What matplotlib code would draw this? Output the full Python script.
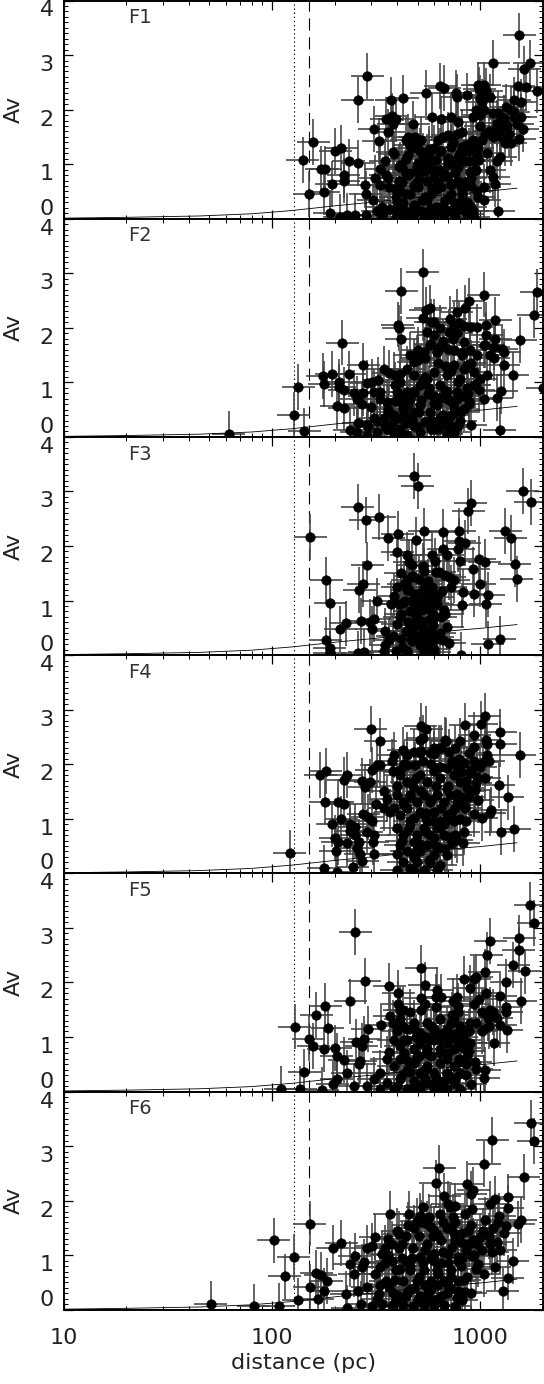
import numpy as np
import matplotlib
matplotlib.use("Agg")
import matplotlib.pyplot as plt
from matplotlib.ticker import FixedLocator, NullFormatter, MultipleLocator

# ---------------- data ----------------
panel_names = ["F1", "F2", "F3", "F4", "F5", "F6"]

d_f1 = [287, 258, 1538, 1153, 1725, 1629, 1660, 1862, 1520, 552, 425, 374,
        643, 673, 762, 776, 865, 970, 988, 1047, 1067, 1109, 996, 1019, 1221, 1153, 1047, 959, 996, 923,
        141, 158, 151, 177, 173, 180, 194, 201, 215, 221, 221, 234, 258, 279, 190,
        310, 325, 353, 376, 394, 362, 383, 331, 313, 351, 386, 477, 486, 495, 450, 441,
        584, 648, 629, 727, 780, 817, 898, 817, 727, 700, 636, 556, 535, 596, 673, 756, 848, 951, 988,
        1109, 1047, 1153, 1175, 1245, 1397, 1538, 1597, 1507, 1567, 1567, 1452, 1334, 1452, 1371, 1318,
        1047, 1221, 898, 933,
        282, 306, 338, 365, 394, 409, 425, 459, 486, 505, 525, 556, 578, 612, 648, 686, 727, 770, 817, 865,
        433, 477, 535, 600, 673, 756, 282, 338, 394, 495, 459, 600, 556, 700, 409, 786, 441, 515, 230, 250, 212]
av_f1 = [2.61, 2.17, 3.36, 2.86, 2.86, 2.75, 2.42, 2.35, 2.43, 2.31, 2.22, 2.17,
         2.43, 2.40, 2.31, 2.23, 2.26, 2.45, 2.37, 2.46, 2.35, 2.23, 2.22, 2.14, 1.93, 1.93, 1.99, 1.99, 1.91, 1.87,
         1.07, 1.41, 0.46, 0.49, 0.92, 0.92, 0.64, 1.24, 1.30, 0.80, 0.70, 1.05, 1.02, 0.61, 0.11,
         1.64, 1.42, 1.82, 1.88, 1.82, 1.59, 1.73, 0.92, 0.75, 0.80, 1.19, 1.74, 1.50, 1.35, 1.16, 0.83,
         1.87, 1.83, 1.44, 1.87, 1.77, 1.59, 1.38, 1.31, 1.31, 1.53, 1.25, 1.13, 0.98, 0.89, 0.83, 0.83, 0.67, 0.89, 1.07,
         0.89, 0.58, 0.76, 0.64, 1.13, 1.38, 1.47, 1.65, 1.74, 2.14, 1.87, 2.17, 2.05, 1.87, 1.56, 1.38,
         0.34, 0.15, 0.21, 0.03,
         0.46, 0.34, 0.21, 0.58, 0.40, 0.70, 0.28, 0.46, 0.21, 0.58, 0.34, 0.70, 0.46, 0.21, 0.58, 0.34, 0.46, 0.21, 0.34, 0.09,
         0.09, 0.06, 0.04, 0.06, 0.06, 0.04, 0.06, 0.04, 0.04, 0.95, 0.83, 0.76, 0.34, 1.01, 0.95, 1.13, 1.44, 1.25, 0.06, 0.06, 0.04]
d_f1_core = [320, 345, 370, 400, 430, 460, 490, 520, 560, 600, 640, 690, 740, 800, 860, 920,
             330, 360, 390, 420, 450, 480, 510, 545, 585, 625, 670, 720, 780, 840, 900, 960,
             350, 380, 410, 440, 470, 500, 530, 570, 610, 650, 700, 760, 820, 880,
             1100, 1200, 1300, 1400, 1150, 1250, 1350, 1450, 1050, 1000]
av_f1_core = [0.15, 0.12, 0.18, 0.14, 0.16, 0.12, 0.18, 0.15, 0.13, 0.17, 0.14, 0.16, 0.12, 0.18, 0.15, 0.14,
              0.62, 0.75, 0.55, 0.68, 0.80, 0.60, 0.72, 0.88, 0.56, 0.66, 0.78, 0.62, 0.70, 0.58, 0.74, 0.50,
              1.05, 1.22, 0.98, 1.10, 1.30, 1.02, 1.15, 1.20, 1.08, 1.25, 1.12, 1.00, 1.18, 1.06,
              1.60, 1.75, 1.85, 2.00, 1.50, 1.65, 1.70, 1.95, 1.55, 1.70]
d_f1_fill = [400, 420, 440, 460, 480, 500, 520, 540, 560, 580, 600, 620, 640, 660, 680, 700, 720, 740, 760, 780,
             800, 820, 840, 860, 880, 900, 920, 940, 960, 980,
             410, 450, 490, 530, 570, 610, 650, 690, 730, 770, 810, 850, 890, 930, 970, 1020, 1080, 1140, 1200, 1260, 1320]
av_f1_fill = [0.30, 0.95, 0.45, 1.35, 0.25, 0.85, 1.45, 0.40, 1.00, 0.20, 1.30, 0.55, 0.90, 1.50, 0.35, 1.10, 0.65, 1.40, 0.28, 0.95,
              1.20, 0.45, 1.05, 0.30, 1.25, 0.60, 1.45, 0.90, 1.15, 0.40,
              0.50, 1.50, 0.65, 0.35, 1.28, 0.90, 0.22, 0.78, 1.00, 1.55, 0.58, 1.35, 0.85, 1.05, 1.30, 1.45, 1.20, 1.60, 1.05, 1.50, 1.75]

d_f2 = [62, 127, 134, 143, 218, 175, 178, 194, 211, 211, 222, 235, 275, 205, 222, 248, 256, 275, 286, 302, 324, 308,
        344, 363, 384, 413, 445, 479, 505, 413, 397, 355, 331,
        418, 531, 401, 407, 418, 531, 548, 575, 579, 597, 1038, 879, 847, 773, 718, 745, 788, 832, 896, 964, 1069, 1181,
        1871, 1803, 1556, 1990, 1430, 1294, 1300, 1271, 1203, 1260, 1240, 902,
        555, 597, 643, 705, 773, 833, 896, 964, 1038, 1117, 575, 619, 643, 745, 817, 864, 930, 1000, 1077, 1159,
        496, 535, 479, 515, 555, 597, 643, 692, 745, 802, 864, 930, 982, 1038, 773, 692, 619, 575, 515, 461, 428,
        384, 344, 308, 286, 256, 237, 320, 355, 413, 479, 515, 597, 692, 745, 833, 643, 745, 555, 413, 445, 479,
        692, 445, 384, 286, 1159, 1181, 1069, 1057]
av_f2 = [0.06, 0.41, 0.92, 0.11, 1.73, 1.12, 0.97, 1.16, 1.01, 0.92, 0.86, 1.15, 1.31, 0.57, 0.53, 0.81, 0.70, 0.80, 0.99, 1.01, 1.05, 0.83,
         1.24, 1.18, 1.13, 1.16, 1.25, 1.38, 1.41, 1.01, 0.83, 0.64, 0.83,
         2.67, 3.02, 2.06, 1.99, 1.79, 2.18, 2.32, 2.37, 2.11, 2.11, 2.61, 2.49, 2.36, 2.29, 2.17, 2.05, 2.08, 2.03, 2.02, 2.02, 2.06, 2.15,
         2.66, 2.23, 1.77, 0.90, 1.14, 1.31, 1.56, 1.62, 0.72, 0.84, 0.12, 0.21,
         1.93, 1.87, 1.99, 1.93, 1.90, 1.74, 1.59, 1.50, 1.68, 1.50, 1.68, 1.56, 1.65, 1.59, 1.50, 1.31, 1.19, 1.07, 1.13, 1.44,
         1.44, 1.56, 1.13, 0.95, 1.07, 1.19, 0.95, 1.13, 1.31, 1.07, 0.89, 0.95, 0.86, 0.70, 0.83, 0.70, 0.58, 0.46, 0.58, 0.70, 0.52,
         0.40, 0.34, 0.34, 0.21, 0.09, 0.12, 0.09, 0.15, 0.09, 0.21, 0.09, 0.15, 0.21, 0.46, 0.52, 0.34, 0.09, 0.28, 0.34, 0.83, 0.46,
         0.06, 0.04, 0.06, 0.04, 1.65, 1.80, 1.87, 1.68]
d_f2_core = [260, 290, 320, 350, 380, 410, 440, 470, 500, 540, 580, 620, 660, 700, 750, 800,
             270, 300, 330, 360, 390, 420, 450, 480, 520, 560, 600, 640, 680, 720, 770, 820, 880, 940,
             460, 500, 540, 580, 620, 660, 700, 740]
av_f2_core = [0.25, 0.18, 0.30, 0.20, 0.28, 0.15, 0.25, 0.32, 0.18, 0.27, 0.15, 0.30, 0.22, 0.28, 0.18, 0.30,
              0.60, 0.55, 0.70, 0.52, 0.65, 0.75, 0.60, 0.85, 0.68, 0.78, 0.62, 0.72, 0.85, 0.66, 0.70, 0.75, 0.60, 0.95,
              1.50, 1.60, 1.45, 1.70, 1.55, 1.75, 1.62, 1.80]
d_f2_fill = [360, 390, 420, 450, 480, 510, 540, 570, 600, 630, 660, 690, 720, 750, 780, 810, 840, 870, 900,
             380, 430, 480, 530, 580, 630, 680, 730, 780, 830, 880]
av_f2_fill = [0.45, 0.95, 0.60, 0.35, 0.80, 0.45, 1.10, 0.90, 0.75, 1.35, 0.40, 0.85, 1.20, 0.55, 1.00, 0.45, 1.25, 0.80, 1.35,
              0.10, 0.50, 0.20, 1.05, 0.30, 0.15, 1.30, 0.40, 0.20, 1.55, 0.65]

d_f3 = [153, 481, 502, 258, 282, 328, 362, 402, 537, 663, 791, 899, 878, 492, 794, 841, 1597, 1751, 1316, 1403, 1462, 1500,
        665, 695, 786, 800, 988, 1052, 926, 995, 933, 1092, 830, 820, 1065, 287, 275, 262, 182, 191, 321,
        400, 444, 455, 471, 533, 584, 604, 415, 447, 481, 537, 611, 634, 670, 708, 748,
        400, 386, 447, 490, 537, 589, 658, 721, 407, 372, 415, 481, 518, 567, 622, 670, 600,
        213, 226, 181, 190, 267, 296, 310, 348, 302, 400, 447, 518, 578, 646, 695,
        365, 415, 499, 557, 622, 666, 709, 1084, 1240, 393, 447, 537, 600, 805, 258, 277, 345, 190, 527, 589, 622]
av_f3 = [2.17, 3.28, 3.10, 2.71, 2.48, 2.53, 2.15, 2.22, 2.28, 2.26, 2.27, 2.79, 2.64, 2.11, 2.10, 2.06, 3.01, 2.80, 2.28, 2.15, 1.67, 1.40,
         1.94, 1.84, 1.94, 1.73, 1.76, 1.71, 1.57, 1.30, 1.12, 1.11, 1.16, 0.91, 0.93, 1.65, 1.31, 1.20, 1.37, 0.96, 1.00,
         1.89, 1.83, 1.70, 1.66, 1.64, 1.84, 1.72, 1.50, 1.38, 1.43, 1.55, 1.52, 1.52, 1.47, 1.43, 1.37,
         1.24, 1.09, 1.24, 1.12, 1.24, 1.18, 1.18, 1.24, 0.94, 0.94, 0.76, 0.94, 0.82, 1.00, 0.94, 0.82, 0.69,
         0.48, 0.58, 0.28, 0.13, 0.63, 0.60, 0.66, 0.45, 0.48, 0.57, 0.45, 0.57, 0.45, 0.69, 0.51,
         0.27, 0.30, 0.27, 0.30, 0.33, 0.28, 0.22, 0.20, 0.30, 0.08, 0.08, 0.05, 0.05, 0.01, 0.03, 0.05, 0.08, 0.03, 0.97, 0.78, 1.06]
d_f3_core = [420, 440, 460, 480, 500, 520, 540, 560, 580, 430, 450, 470, 490, 510, 530, 550, 570, 590,
             410, 435, 455, 475, 495, 515, 535, 555, 575, 600, 640, 680, 380, 350]
av_f3_core = [0.15, 0.45, 0.80, 1.05, 0.35, 0.62, 0.12, 0.88, 0.40, 1.30, 0.60, 0.25, 0.72, 1.40, 0.50, 1.10, 0.20, 0.95,
              0.70, 1.00, 1.20, 0.38, 0.55, 0.18, 0.85, 1.30, 0.65, 0.12, 0.40, 0.75, 0.35, 0.18]
d_f3_fill = [425, 445, 465, 485, 505, 525, 545, 565, 585, 605, 440, 470, 500, 530, 560, 590]
av_f3_fill = [0.95, 1.20, 0.30, 0.55, 0.85, 1.15, 0.40, 0.65, 1.25, 0.30, 0.10, 1.45, 0.60, 0.30, 1.35, 0.55]

d_f4 = [122, 171, 181, 180, 207, 222, 229, 221, 272, 279, 297, 298, 331, 316, 319, 331, 302,
        195, 201, 207, 202, 236, 238, 177, 205, 245, 272, 251, 261, 256, 275, 288, 302, 308, 305, 308,
        377, 347, 346, 356, 370, 381, 413, 428, 445, 519, 550, 515, 531, 479, 445, 488, 515, 575, 597, 631, 687, 759, 802,
        847, 936, 1012, 1050, 1064, 929, 1076, 1076, 1030, 1096, 1247, 1247, 1545, 929, 832, 889, 964, 1225, 1352,
        1125, 1109, 1019, 936, 847, 802, 946, 970, 1257, 1455, 832, 773, 705, 597, 679, 705,
        384, 413, 445, 479, 515, 555, 597, 643, 692, 745, 802, 864, 397, 428, 461, 496, 535, 575, 619, 667, 718, 773,
        384, 413, 445, 479, 515, 555, 597, 643, 692, 745, 397, 428, 461, 496, 535, 575, 619, 667,
        413, 445, 479, 515, 555, 597, 643, 428, 461, 496, 535, 575, 619, 397, 479, 643, 692]
av_f4 = [0.38, 1.80, 1.88, 1.31, 1.30, 1.27, 1.80, 1.71, 1.69, 1.59, 1.68, 2.65, 2.43, 1.27, 1.99, 1.99, 1.90,
         0.90, 0.65, 0.57, 0.41, 0.90, 0.78, 0.10, 0.03, 0.12, 0.23, 0.70, 0.58, 0.46, 1.08, 1.03, 0.95, 0.70, 0.58, 0.35,
         2.05, 1.51, 1.20, 1.36, 1.13, 1.88, 1.90, 2.26, 2.17, 2.70, 2.64, 2.44, 2.48, 2.23, 1.99, 1.99, 2.20, 2.20, 2.18, 2.29, 2.43, 2.29, 2.43,
         2.71, 2.53, 2.73, 2.89, 2.45, 2.31, 2.37, 2.17, 2.04, 2.05, 2.59, 2.37, 2.17, 2.05, 2.02, 1.83, 1.76, 1.61, 1.39,
         1.16, 1.10, 1.01, 1.08, 1.19, 1.31, 1.53, 1.35, 0.75, 0.81, 0.76, 0.61, 0.67, 2.29, 2.45, 2.23,
         2.17, 1.80, 1.68, 1.56, 1.80, 1.68, 1.87, 1.74, 1.93, 1.80, 1.68, 1.56, 1.44, 1.31, 1.44, 1.31, 1.44, 1.31, 1.44, 1.31, 1.44, 1.31,
         1.19, 1.07, 1.19, 1.01, 1.13, 0.95, 1.13, 0.95, 1.07, 0.95, 0.83, 0.70, 0.89, 0.70, 0.83, 0.70, 0.83, 0.70,
         0.52, 0.40, 0.58, 0.40, 0.52, 0.34, 0.46, 0.21, 0.09, 0.21, 0.06, 0.18, 0.06, 0.06, 0.04, 0.15, 0.34]
d_f4_core = [400, 430, 460, 490, 520, 550, 580, 610, 650, 690, 730, 770, 810, 850,
             420, 450, 480, 510, 540, 570, 600, 640, 680, 720, 760, 800, 840, 880, 900, 950, 1000, 1050,
             215, 230, 250, 265, 285]
av_f4_core = [1.60, 1.25, 0.95, 1.75, 1.50, 1.10, 2.00, 1.60, 1.20, 1.55, 2.05, 1.45, 1.85, 1.70,
              0.60, 0.80, 0.30, 0.55, 1.05, 0.25, 0.65, 0.85, 0.45, 1.10, 0.70, 1.00, 1.25, 1.40, 1.90, 1.65, 1.95, 1.75,
              1.00, 0.55, 0.85, 0.35, 0.75]
d_f4_fill = [400, 430, 460, 490, 520, 550, 580, 610, 640, 670, 700, 730, 760, 790, 820, 850, 880,
             410, 470, 530, 590, 650, 710, 770, 830, 890]
av_f4_fill = [0.35, 2.00, 1.40, 0.40, 2.25, 0.75, 1.35, 0.50, 1.95, 0.90, 1.60, 0.55, 1.20, 2.10, 1.40, 0.95, 2.20,
              1.85, 1.65, 2.05, 0.95, 2.30, 1.00, 1.95, 0.55, 1.50]

d_f5 = [110, 129, 137, 143, 150, 158, 163, 180, 185, 177, 174, 201, 205, 222, 196, 205, 238, 251, 279, 254, 277, 270, 265, 263,
        288, 333, 365, 403, 403, 367, 381, 363, 428, 410, 521, 541, 620, 615, 647, 519, 544, 773, 740, 778,
        832, 889, 936, 957, 1117, 1076, 1050, 1539, 1527, 1436, 1633, 1738, 1803, 1333, 1568, 1333, 1333, 1247, 1343,
        1109, 1084, 1045, 1159, 1019, 896, 896, 832, 946, 957, 1050, 1038, 902,
        413, 445, 479, 515, 555, 597, 643, 692, 745, 802, 384, 413, 445, 479, 515, 555, 597, 643, 692, 745, 802, 864,
        355, 384, 413, 445, 479, 515, 555, 597, 643, 692, 745, 802, 331, 308, 355, 413, 479, 555, 643, 745,
        286, 331, 384, 445, 515, 597, 692, 802, 248, 230]
av_f5 = [0.05, 1.19, 0.05, 0.35, 0.97, 0.83, 1.40, 1.57, 1.16, 0.77, 0.02, 0.79, 0.65, 0.57, 0.13, 0.22, 1.65, 2.92, 2.02, 0.91, 0.97, 0.84, 0.56, 0.50,
         1.14, 1.21, 1.93, 1.80, 1.61, 1.39, 1.26, 0.73, 1.49, 1.50, 2.27, 1.96, 1.86, 1.74, 1.73, 1.71, 1.61, 1.73, 1.66, 1.57,
         2.07, 1.90, 2.07, 2.10, 2.76, 2.50, 2.19, 2.81, 2.59, 2.32, 2.20, 3.42, 3.09, 2.01, 1.66, 1.55, 1.46, 1.22, 1.13,
         1.49, 1.35, 1.14, 0.89, 1.11, 1.25, 0.89, 1.08, 0.54, 0.42, 0.40, 0.25, 0.13,
         1.32, 1.14, 1.26, 1.08, 1.26, 1.14, 1.32, 1.14, 1.32, 1.20, 0.95, 0.83, 0.95, 0.77, 0.89, 0.77, 0.95, 0.77, 0.89, 0.77, 0.83, 0.65,
         0.59, 0.46, 0.59, 0.40, 0.53, 0.34, 0.46, 0.34, 0.53, 0.34, 0.46, 0.34, 0.34, 0.22, 0.16, 0.22, 0.10, 0.16, 0.10, 0.16,
         0.10, 0.05, 0.05, 0.04, 0.04, 0.05, 0.04, 0.05, 0.10, 0.34]
d_f5_core = [400, 430, 460, 490, 520, 550, 580, 610, 650, 690, 730, 770, 810, 850,
             420, 450, 480, 510, 540, 570, 600, 640, 680, 720, 760, 800, 840, 880, 930, 990, 1060, 1150, 1250]
av_f5_core = [1.10, 0.70, 1.45, 0.60, 1.50, 1.00, 0.65, 1.55, 1.05, 0.60, 1.40, 0.95, 1.00, 0.50,
              0.30, 0.55, 0.20, 0.65, 0.25, 0.95, 0.15, 0.70, 1.00, 0.25, 1.05, 0.55, 0.80, 1.10, 1.60, 1.70, 1.80, 1.45, 1.75]
d_f5_fill = [400, 430, 460, 490, 520, 550, 580, 610, 640, 670, 700, 730, 760, 790, 820, 850, 880,
             420, 480, 540, 600, 660, 720, 780, 840, 950, 1020, 1100, 1200]
av_f5_fill = [0.10, 0.95, 0.35, 1.00, 0.12, 0.70, 1.20, 0.25, 0.95, 0.20, 0.70, 1.00, 0.25, 0.60, 1.15, 0.30, 0.75,
              1.20, 1.15, 0.40, 1.10, 0.15, 1.25, 1.45, 0.95, 1.25, 1.45, 1.20, 1.35]

d_f6 = [51, 82, 108, 102, 115, 127, 134, 152, 152, 163, 172, 183, 178, 166, 196, 215, 237, 250, 248, 228, 258, 271, 277,
        287, 301, 313, 330, 348, 368, 379, 409, 438, 455, 495, 511, 531, 612, 636, 673, 700, 713, 756, 865, 898, 923, 916, 848,
        1047, 1143, 1745, 1807, 1615, 1355, 1355, 1175, 1109, 1567, 1520, 1230, 1221, 1334, 1117, 1143, 1175, 1435, 1355, 1283,
        1028, 996, 923, 908, 970, 1047, 848, 817,
        338, 379, 409, 441, 477, 515, 556, 600, 648, 700, 756, 786, 578, 623, 727, 556,
        313, 351, 394, 425, 459, 495, 535, 578, 623, 673, 727, 786, 287, 325, 365, 409, 459, 515, 578, 648, 727,
        268, 301, 338, 379, 425, 477, 535, 600, 673, 756, 230]
av_f6 = [0.10, 0.06, 0.07, 1.27, 0.61, 0.97, 0.17, 1.58, 0.41, 0.67, 0.64, 0.53, 0.35, 0.20, 1.14, 1.22, 0.84, 0.99, 0.65, 0.29, 0.34, 0.78, 0.87,
         1.14, 1.17, 1.33, 0.78, 1.14, 1.76, 1.20, 1.39, 1.36, 1.76, 1.63, 1.72, 1.88, 2.32, 2.60, 2.09, 1.94, 1.88, 1.91, 2.31, 2.12, 2.20, 1.85, 1.76,
         2.67, 3.11, 3.43, 3.10, 2.44, 2.06, 1.86, 2.03, 1.94, 1.65, 1.57, 1.72, 1.60, 1.54, 1.20, 1.05, 0.78, 0.90, 0.59, 0.34,
         1.45, 1.33, 1.27, 0.99, 0.84, 0.65, 0.32, 0.17,
         1.02, 0.90, 1.14, 0.90, 1.14, 0.96, 1.20, 1.02, 1.27, 1.02, 1.27, 0.96, 1.51, 1.39, 1.51, 1.57,
         0.65, 0.53, 0.72, 0.53, 0.72, 0.53, 0.72, 0.53, 0.72, 0.53, 0.72, 0.53, 0.41, 0.29, 0.41, 0.26, 0.38, 0.26, 0.38, 0.26, 0.38,
         0.10, 0.07, 0.10, 0.06, 0.09, 0.06, 0.09, 0.06, 0.09, 0.06, 0.04]
d_f6_core = [320, 350, 380, 410, 440, 470, 500, 530, 560, 590, 620, 650, 690, 730, 770, 810, 850,
             330, 360, 390, 420, 450, 480, 510, 540, 570, 600, 630, 660, 700, 740, 780, 820, 860, 900, 960, 1020, 1100, 1200, 1300]
av_f6_core = [0.20, 0.85, 0.30, 0.75, 0.25, 0.95, 0.18, 0.85, 0.30, 1.35, 0.20, 0.85, 0.30, 1.15, 0.22, 0.80, 1.10,
              0.45, 1.30, 0.55, 1.20, 1.55, 0.40, 1.35, 0.45, 1.70, 0.90, 0.45, 1.60, 0.85, 1.70, 0.90, 1.40, 0.60, 1.55, 1.20, 1.10, 1.35, 1.25, 1.40]
d_f6_fill = [360, 390, 420, 450, 480, 510, 540, 570, 600, 630, 660, 690, 720, 750, 780, 810, 840, 870, 900, 930,
             400, 460, 520, 580, 640, 700, 760, 820, 880, 950, 1050, 1150, 1250]
av_f6_fill = [1.00, 0.15, 0.95, 0.35, 1.50, 0.60, 1.10, 0.20, 1.45, 0.65, 1.05, 1.50, 0.60, 1.40, 0.35, 1.25, 0.55, 1.45, 0.30, 1.00,
              1.45, 0.80, 1.60, 0.95, 1.75, 0.45, 1.60, 0.95, 1.20, 0.75, 1.65, 1.50, 1.10]

# model extinction curve
curve_d = [10, 20, 45, 80, 125, 205, 300, 500, 800, 1000, 1500]
curve_av = [0.01, 0.025, 0.05, 0.09, 0.15, 0.24, 0.30, 0.39, 0.46, 0.49, 0.56]

dotted_d = 128
dashed_d = 151
dist_err_factor = 1.2
av_err = 0.42

x_ticks = [10, 100, 1000]
x_ticklabels = ["10", "100", "1000"]
y_ticks = [0, 1, 2, 3, 4]

all_d = [d_f1 + d_f1_core + d_f1_fill, d_f2 + d_f2_core + d_f2_fill, d_f3 + d_f3_core + d_f3_fill,
         d_f4 + d_f4_core + d_f4_fill, d_f5 + d_f5_core + d_f5_fill, d_f6 + d_f6_core + d_f6_fill]
all_av = [av_f1 + av_f1_core + av_f1_fill, av_f2 + av_f2_core + av_f2_fill, av_f3 + av_f3_core + av_f3_fill,
          av_f4 + av_f4_core + av_f4_fill, av_f5 + av_f5_core + av_f5_fill, av_f6 + av_f6_core + av_f6_fill]

# ---------------- figure ----------------
plt.rcParams["font.family"] = ["DejaVu Sans"]
TXT = "#222222"
fig = plt.figure(figsize=(5.44, 13.84), dpi=100)
W, H = 544.0, 1384.0
left_px, right_px = 63.5, 543.0
ph = 218.2
minor_x = [m * 10 ** e for e in (1, 2, 3) for m in range(2, 10) if m * 10 ** e <= 2000]

for k in range(6):
    top = 0.5 + ph * k
    ax = fig.add_axes([left_px / W, 1 - (top + ph) / H, (right_px - left_px) / W, ph / H])
    d = np.array(all_d[k], dtype=float)
    av = np.array(all_av[k], dtype=float)
    xerr = [d - d / dist_err_factor, d * dist_err_factor - d]
    ax.errorbar(d, av, xerr=xerr, yerr=av_err, fmt="none", ecolor="0.25",
                elinewidth=1.15, capsize=0, zorder=2)
    ax.plot(d, av, "o", ms=6.8, mfc="k", mec="k", mew=0.5, zorder=3)
    ax.plot(curve_d, curve_av, "-", color="k", lw=0.6, zorder=4)
    ax.axvline(dotted_d, color="k", lw=0.8, ls=(0, (1.2, 2.5)), zorder=1)
    ax.axvline(dashed_d, color="k", lw=0.8, ls=(0, (11, 6)), zorder=1)

    ax.set_xscale("log")
    ax.set_xlim(10, 2000)
    ax.set_ylim(0, 4)
    ax.xaxis.set_major_locator(FixedLocator(x_ticks))
    ax.xaxis.set_minor_locator(FixedLocator(minor_x))
    ax.xaxis.set_minor_formatter(NullFormatter())
    ax.yaxis.set_major_locator(FixedLocator(y_ticks))
    ax.yaxis.set_minor_locator(MultipleLocator(0.1))
    ax.tick_params(which="both", direction="in", top=True, right=True, colors="k",
                   labelcolor=TXT, labelsize=16)
    ax.tick_params(which="major", length=6.5, width=0.9)
    ax.tick_params(which="minor", length=3.2, width=0.7)
    ax.tick_params(axis="y", pad=7)
    ax.tick_params(axis="x", pad=13)
    ax.set_yticklabels([str(v) for v in y_ticks])
    for lab in ax.get_yticklabels():
        if lab.get_text() == "0":
            lab.set_va("bottom")
        else:
            lab.set_va("top")
    if k == 5:
        ax.set_xticklabels(x_ticklabels)
        ax.set_xlabel("distance (pc)", fontsize=16, color=TXT, labelpad=4)
    else:
        ax.set_xticklabels([])
    for s in ax.spines.values():
        s.set_linewidth(1.4)
    ax.text(0.134, 0.965, panel_names[k], transform=ax.transAxes, fontsize=14,
            color="#333333", va="top", ha="left")
    fig.text(14 / W, 1 - (top + ph / 2) / H, "Av", rotation=90, fontsize=16,
             color=TXT, ha="center", va="center")

fig.savefig("out.png", dpi=100)
